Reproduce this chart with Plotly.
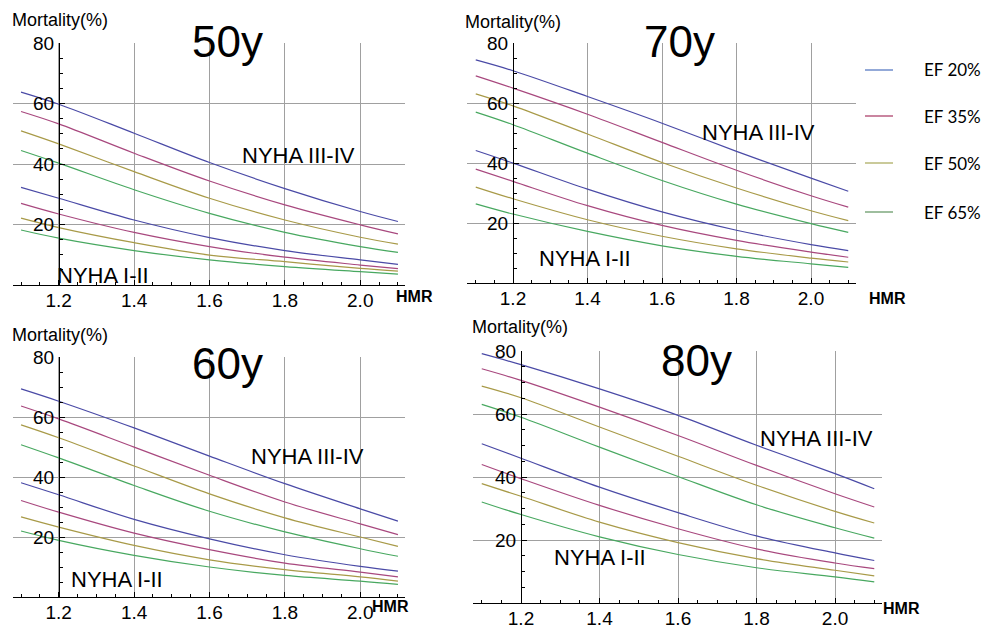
import plotly.graph_objects as go

# The page body has an 8px default margin, so the figure is drawn 8px in from the window edge.
OFF = 8
W, H = 990 - OFF, 628 - OFF

HMR = [1.1, 1.2, 1.4, 1.6, 1.8, 2.0, 2.1]
EF_LABELS = ["EF 20%", "EF 35%", "EF 50%", "EF 65%"]
COLORS = ["#4A4AA6", "#A8487E", "#A89A48", "#48A860"]
LEGEND_COLORS = ["#6F8CCB", "#B85C80", "#B8B878", "#7EA87E"]

# Mortality (%), NYHA III-IV (upper set) and NYHA I-II (lower set)
age50_high = [
    [63.8, 59.8, 50.2, 40.5, 31.9, 24.3, 21.0],
    [57.4, 53.3, 43.6, 34.4, 26.5, 19.9, 16.9],
    [51.0, 46.7, 37.5, 28.7, 21.5, 15.8, 13.5],
    [44.5, 40.3, 31.5, 23.7, 17.4, 12.7, 10.8],
]
age50_low = [
    [32.3, 28.7, 21.5, 15.7, 11.4, 8.3, 6.8],
    [27.0, 23.5, 17.4, 12.7, 9.2, 6.6, 5.4],
    [22.1, 19.0, 14.0, 9.9, 7.7, 5.5, 4.6],
    [18.2, 15.5, 11.4, 8.3, 6.1, 4.4, 3.6],
]
age70_high = [
    [74.4, 70.8, 62.2, 53.3, 43.9, 35.0, 30.6],
    [69.1, 65.0, 56.3, 46.9, 37.6, 29.1, 25.3],
    [63.1, 59.1, 49.7, 40.2, 31.7, 24.1, 20.8],
    [57.0, 52.8, 43.3, 34.2, 26.3, 19.8, 16.9],
]
age70_low = [
    [44.2, 40.0, 31.3, 23.7, 17.6, 12.8, 10.8],
    [38.0, 33.9, 25.8, 19.2, 14.2, 10.3, 8.6],
    [32.0, 28.1, 21.1, 15.6, 11.4, 8.3, 7.0],
    [26.4, 23.0, 17.2, 12.4, 8.9, 6.4, 5.2],
]
age60_high = [
    [69.4, 65.3, 56.4, 47.0, 37.8, 29.4, 25.3],
    [63.7, 59.4, 50.0, 40.6, 31.7, 24.4, 20.8],
    [57.4, 53.1, 43.7, 34.4, 26.4, 20.0, 16.9],
    [50.8, 46.4, 37.2, 28.6, 21.7, 16.1, 13.6],
]
age60_low = [
    [38.1, 34.1, 25.9, 19.4, 14.1, 10.2, 8.6],
    [32.2, 28.3, 21.3, 15.8, 11.3, 8.3, 6.7],
    [26.7, 23.3, 17.2, 12.4, 9.1, 6.7, 5.3],
    [22.0, 18.9, 13.9, 10.0, 7.2, 5.3, 4.2],
]
age80_high = [
    [79.2, 75.7, 68.0, 59.6, 50.1, 41.1, 36.3],
    [74.4, 70.7, 62.2, 53.2, 43.7, 34.7, 30.5],
    [68.9, 65.2, 55.9, 46.6, 37.4, 29.1, 25.4],
    [63.1, 59.0, 49.5, 40.2, 31.2, 23.9, 20.6],
]
age80_low = [
    [50.6, 46.0, 36.8, 28.7, 21.3, 15.9, 13.5],
    [44.0, 39.5, 31.0, 23.6, 17.2, 12.7, 10.9],
    [37.9, 33.9, 25.7, 19.2, 14.1, 10.4, 8.6],
    [32.1, 28.1, 21.0, 15.4, 11.2, 8.3, 6.7],
]

AGE_TITLES = ["50y", "70y", "60y", "80y"]
X_TICKS = [1.2, 1.4, 1.6, 1.8, 2.0]
X_TICKTEXT = ["1.2", "1.4", "1.6", "1.8", "2.0"]
Y_TICKS = [20, 40, 60, 80]

# panel geometry in window pixels
panels = [
    dict(high=age50_high, low=age50_low, px=(13, 405), py=(43, 285), xr=(1.0787, 2.1187), yax=59,
         title=(227, 42), mort=(10, 20), hmr=(414, 297),
         n34=(1.836, 43.0), n12=(1.317, 3.3)),
    dict(high=age70_high, low=age70_low, px=(467, 856), py=(43, 283), xr=(1.0765, 2.1208), yax=513,
         title=(679, 42), mort=(463, 22), hmr=(887, 298),
         n34=(1.860, 50.3), n12=(1.393, 8.3)),
    dict(high=age60_high, low=age60_low, px=(13, 405), py=(357, 597), xr=(1.0787, 2.1187), yax=59,
         title=(227, 363), mort=(10, 335), hmr=(390, 606),
         n34=(1.861, 47.0), n12=(1.355, 5.7)),
    dict(high=age80_high, low=age80_low, px=(473, 882), py=(351, 603), xr=(1.0777, 2.1197), yax=521,
         title=(696, 360), mort=(470, 327), hmr=(901, 608),
         n34=(1.954, 52.4), n12=(1.401, 14.3)),
]


def fx(px):
    return (px - OFF) / W


def fy(py):
    return 1 - (py - OFF) / H


FONT = "Liberation Sans, Arial, Helvetica, sans-serif"
GRID = "#a0a0a0"

fig = go.Figure()
layout = dict(width=W, height=H, margin=dict(l=0, r=0, t=0, b=0, pad=0, autoexpand=False),
              paper_bgcolor="white", plot_bgcolor="white", showlegend=False,
              font=dict(family=FONT, color="black"))
annotations = []
shapes = []

for i, p in enumerate(panels):
    k = "" if i == 0 else str(i + 1)
    xa, ya = "x" + k, "y" + k
    for group in (p["high"], p["low"]):
        for j, vals in enumerate(group):
            fig.add_trace(go.Scatter(x=HMR, y=vals, mode="lines", xaxis=xa, yaxis=ya,
                                     line=dict(color=COLORS[j], width=1.2, shape="spline"),
                                     name=EF_LABELS[j], hoverinfo="x+y+name"))
    layout["xaxis" + k] = dict(
        domain=[fx(p["px"][0]), fx(p["px"][1])], range=list(p["xr"]), anchor=ya,
        automargin=False,
        showline=True, linecolor="black", linewidth=1,
        tickmode="array", tickvals=X_TICKS, ticktext=X_TICKTEXT,
        ticks="inside", ticklen=5, tickcolor="black",
        ticklabelstandoff=-2,
        tickfont=dict(size=19, family=FONT),
        showgrid=True, gridcolor=GRID, gridwidth=1, zeroline=False,
        minor=dict(tickmode="linear", tick0=1.0, dtick=0.05, ticks="inside",
                   ticklen=3, tickcolor="black", showgrid=False),
    )
    layout["yaxis" + k] = dict(
        domain=[fy(p["py"][1]), fy(p["py"][0])], range=[0, 80.05],
        anchor="free", position=fx(p["yax"]), automargin=False,
        showline=True, linecolor="black", linewidth=1,
        tickmode="array", tickvals=Y_TICKS,
        ticks="inside", ticklen=5, tickcolor="black",
        ticklabelstandoff=1,
        tickfont=dict(size=19, family=FONT),
        showgrid=True, gridcolor=GRID, gridwidth=1, zeroline=False,
        minor=dict(tickmode="linear", tick0=0, dtick=5, ticks="inside",
                   ticklen=3, tickcolor="black", showgrid=False),
    )
    annotations.append(dict(text=AGE_TITLES[i], x=fx(p["title"][0]), y=fy(p["title"][1]),
                            xref="paper", yref="paper", showarrow=False,
                            xanchor="center", yanchor="middle",
                            font=dict(size=44, family=FONT, color="black")))
    annotations.append(dict(text="Mortality(%)", x=fx(p["mort"][0]), y=fy(p["mort"][1]),
                            xref="paper", yref="paper", showarrow=False,
                            xanchor="left", yanchor="middle",
                            font=dict(size=18, family=FONT, color="black")))
    annotations.append(dict(text="<b>HMR</b>", x=fx(p["hmr"][0]), y=fy(p["hmr"][1]),
                            xref="paper", yref="paper", showarrow=False,
                            xanchor="center", yanchor="middle",
                            font=dict(size=16, family=FONT, color="black")))
    annotations.append(dict(text="NYHA III-IV", x=p["n34"][0], y=p["n34"][1],
                            xref=xa, yref=ya, showarrow=False,
                            xanchor="center", yanchor="middle",
                            font=dict(size=22, family=FONT, color="black")))
    annotations.append(dict(text="NYHA I-II", x=p["n12"][0], y=p["n12"][1],
                            xref=xa, yref=ya, showarrow=False,
                            xanchor="center", yanchor="middle",
                            font=dict(size=22, family=FONT, color="black")))

# custom legend
legend_y = [70, 116, 163, 212]
for j, ly in enumerate(legend_y):
    shapes.append(dict(type="line", xref="paper", yref="paper",
                       x0=fx(865), x1=fx(893), y0=fy(ly), y1=fy(ly),
                       line=dict(color=LEGEND_COLORS[j], width=1.5)))
    annotations.append(dict(text=EF_LABELS[j], x=fx(922), y=fy(ly),
                            xref="paper", yref="paper", showarrow=False,
                            xanchor="left", yanchor="middle",
                            font=dict(size=17, family="Lato, Open Sans, sans-serif", color="black")))

layout["annotations"] = annotations
layout["shapes"] = shapes
fig.update_layout(**layout)
fig.write_html("out.html")
